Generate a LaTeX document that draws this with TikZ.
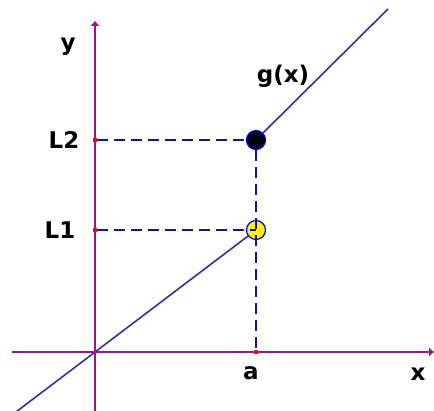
\documentclass[tikz,border=0pt]{standalone}
\usepackage{fontspec}
\setmainfont{DejaVu Sans}
\usetikzlibrary{arrows.meta}
\definecolor{axiscol}{RGB}{150,20,150}
\definecolor{linecol}{RGB}{50,50,150}
\definecolor{dashcol}{RGB}{20,20,140}
\begin{document}
\begin{tikzpicture}[x=1pt,y=-1pt,
  axis/.style={draw=axiscol,line width=2pt,-{Triangle[length=5pt,width=8pt]}},
  graphline/.style={draw=linecol,line width=1.6pt},
  guide/.style={draw=dashcol,line width=1.6pt,dash pattern=on 11pt off 6pt},
  tick/.style={fill=red,inner sep=0pt,minimum size=4pt,draw=none},
  lbl/.style={font=\fontsize{23}{23}\selectfont\bfseries,inner sep=0pt},
  opendot/.style={circle,fill=yellow,draw=blue,line width=1.2pt,minimum size=19pt,inner sep=0pt},
  filldot/.style={circle,fill=black,draw=blue,line width=1.2pt,minimum size=19pt,inner sep=0pt}]
\useasboundingbox (0,0) rectangle (434,411);
% axes
\coordinate (xl) at (12,352);
\coordinate (xr) at (434,352);
\coordinate (yb) at (95,411);
\coordinate (yt) at (95,21);
\coordinate (O) at (95,352);
% graph ends
\coordinate (bl) at (12,415);
\coordinate (tr) at (388,9);
% ticks
\node[tick] (tL2) at (95,140) {};
\node[tick] (tL1) at (95,230) {};
\node[tick] (ta) at (256,352) {};
% points
\node[filldot] (P2) at (256,140) {};
\coordinate (P1c) at (256,230);
% graph lines
\draw[graphline] (bl) -- (P1c);
\draw[graphline] (P2.45) -- (tr);
% guides
\draw[guide] (tL2) -- (P2);
\node[opendot] (P1) at (256,230) {};
\draw[guide] (tL1) -- (P1.center);
\draw[guide] (P2) -- (ta);
% axes on top
\draw[axis] (xl) -- (xr);
\draw[axis] (yb) -- (yt);
\node[tick] at (ta) {};
\node[tick] at (tL2) {};
\node[tick] at (tL1) {};
% labels
\node[lbl] (ylab) at (68,47) {y};
\node[lbl] (glab) at (283,76) {g(x)};
\node[lbl] (L2lab) at (64,140) {L2};
\node[lbl] (L1lab) at (60,230) {L1};
\node[lbl] (alab) at (251,373) {a};
\node[lbl] (xlab) at (418,374) {x};
\end{tikzpicture}
\end{document}
